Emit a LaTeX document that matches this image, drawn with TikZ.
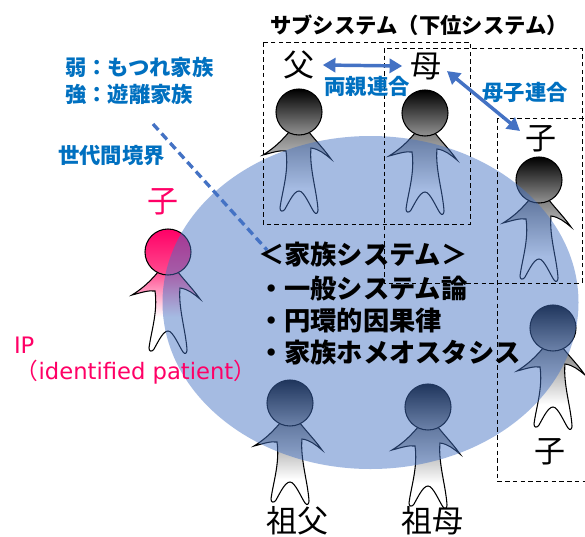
\documentclass[tikz,border=0pt]{standalone}
\usepackage{fontspec}
\setmainfont{Noto Sans CJK JP}
\newfontfamily\latinip{DejaVu Sans}
\usetikzlibrary{arrows.meta,shapes.geometric}
\definecolor{famblue}{HTML}{4472C4}
\definecolor{labblue}{HTML}{0070C0}
\definecolor{ippink}{HTML}{FF0066}
\definecolor{hdtint}{HTML}{FF4D90}
\pgfdeclareverticalshading{bodygray}{100bp}{color(0bp)=(white); color(41bp)=(white); color(75bp)=(gray); color(100bp)=(gray)}
\pgfdeclareverticalshading{bodypink}{100bp}{color(0bp)=(white); color(48bp)=(white); color(75bp)=(hdtint); color(100bp)=(hdtint)}
\newcommand{\pxfont}[1]{\fontsize{#1}{#1}\selectfont}
\newcommand{\personfig}[6]{%
  \begin{scope}[shift={(#1,#2)}]
    \path[draw=#6,line width=0.8pt,shading=#5]
      (-10,20) .. controls (-20,32) and (-28,38) .. (-36,43)
      .. controls (-28,41) and (-20,38) .. (-13,39)
      .. controls (-10,60) and (-17,80) .. (-19,96)
      .. controls (-19,100) and (-16,100) .. (-14,97)
      .. controls (-10,90) and (-5,79) .. (0,79)
      .. controls (5,79) and (11,94) .. (15,100)
      .. controls (17,103) and (19,101) .. (19,98)
      .. controls (18,80) and (10,55) .. (12,36)
      .. controls (20,37) and (26,42) .. (32,47)
      .. controls (25,37) and (16,28) .. (10,20) -- cycle;
    \path[draw=#6,line width=0.8pt,top color=#3,bottom color=#4] (0,0) circle (23);
  \end{scope}}
\tikzset{
  subbox/.style={draw=black,line width=0.65pt,dash pattern=on 3.4pt off 2.4pt},
  linkarrow/.style={draw=famblue,line width=2.6pt,{Triangle[length=9.5pt,width=10.5pt]}-{Triangle[length=9.5pt,width=10.5pt]}},
  genline/.style={draw=famblue,line width=2.5pt,dash pattern=on 6pt off 3.6pt},
  famoval/.style={ellipse,fill=famblue,fill opacity=0.48,minimum width=312pt,minimum height=249.75pt,inner sep=0pt},
  txt/.style={inner sep=0pt,outer sep=0pt,anchor=center,align=left},
  kin/.style={inner sep=6pt,font=\pxfont{23.25pt}},
  boldblue/.style={txt,text=labblue,font=\pxfont{16pt}\bfseries},
  boldblack/.style={txt,text=black,font=\pxfont{19.7pt}\bfseries},
  pinktext/.style={txt,text=ippink,font=\pxfont{17pt}}
}
\begin{document}
\begin{tikzpicture}[x=0.75pt,y=-0.75pt]
\useasboundingbox (0,0) rectangle (585,536);
\clip (0,0) rectangle (585,536);
\fill[white] (0,0) rectangle (585,536);
% persons
\personfig{299}{112}{black}{gray!85!white}{bodygray}{black}
\personfig{425}{113}{black}{gray!85!white}{bodygray}{black}
\personfig{539}{180}{black}{gray!85!white}{bodygray}{black}
\personfig{553}{328}{black}{gray!85!white}{bodygray}{black}
\personfig{290}{403}{black}{gray!85!white}{bodygray}{black}
\personfig{428}{407}{black}{gray!85!white}{bodygray}{black}
\personfig{168}{252}{ippink}{hdtint}{bodypink}{black}
% family oval
\node[famoval] (family) at (370.5,302.5) {};
% subsystem boxes
\draw[subbox] (263,42) rectangle (470,224);
\draw[subbox] (384,48) rectangle (582,283);
\draw[subbox] (497,118) rectangle (595,481);
% kin labels
\node[kin] (fa) at (299,65) {父};
\node[kin] (mo) at (426,66) {母};
\node[kin] (chA) at (541,139) {子};
\node[kin,text=ippink] (chIP) at (163,202) {子};
\node[kin] (chB) at (550,452) {子};
\node[kin] (gf) at (297,521) {祖父};
\node[kin] (gm) at (432,521) {祖母};
% connectors
\draw[linkarrow] (fa.east) -- (mo.west);
\draw[linkarrow] ([shift={(15.75pt,-3.75pt)}]mo.center) -- ([shift={(-15.75pt,6pt)}]chA.center);
\coordinate (genA) at (153,124);
\coordinate (genB) at (267,250);
\draw[genline] (genA) -- (genB);
% labels
\node[txt,font=\pxfont{16pt}\bfseries] (title) at (419,25) {サブシステム（下位システム）};
\node[boldblue,anchor=west] (weak) at (65,67) {弱：もつれ家族};
\node[boldblue,anchor=west] (strong) at (65,94) {強：遊離家族};
\node[boldblue,anchor=west] (gen) at (58,155) {世代間境界};
\node[boldblue] (both) at (367,86) {両親連合};
\node[boldblue] (mc) at (525,92) {母子連合};
\node[boldblack,anchor=west] (sys) at (258,255) {＜家族システム＞};
\node[boldblack,anchor=west] (s1) at (258,288) {・一般システム論};
\node[boldblack,anchor=west] (s2) at (258,321) {・円環的因果律};
\node[boldblack,anchor=west] (s3) at (258,353) {・家族ホメオスタシス};
\node[pinktext,anchor=west] (ip) at (14,345) {{\latinip IP}};
\node[pinktext,anchor=west] (ipl) at (16,372) {（{\latinip identified patient}）};
\end{tikzpicture}
\end{document}
